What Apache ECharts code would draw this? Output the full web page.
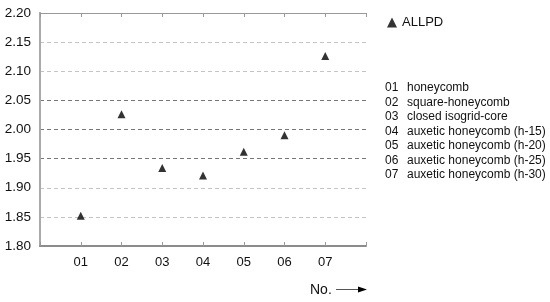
<!DOCTYPE html>
<html>
<head>
<meta charset="utf-8">
<script src="https://cdn.jsdelivr.net/npm/echarts@6/dist/echarts.min.js"></script>
<style>
  html, body { margin: 0; padding: 0; background: #fff; }
  #chart { width: 550px; height: 302px; }
</style>
</head>
<body>
<div id="chart"></div>
<script>
// sample numbers (x positions) and measured ALLPD values
const sampleNo = [1, 2, 3, 4, 5, 6, 7]
const allpd = [1.852, 2.026, 1.934, 1.921, 1.962, 1.990, 2.126]
const sampleNames = [
  'honeycomb',
  'square-honeycomb',
  'closed isogrid-core',
  'auxetic honeycomb (h-15)',
  'auxetic honeycomb (h-20)',
  'auxetic honeycomb (h-25)',
  'auxetic honeycomb (h-30)'
]
const yTicks = [1.80, 1.85, 1.90, 1.95, 2.00, 2.05, 2.10, 2.15, 2.20]

const font = 'Liberation Sans, Arial, sans-serif'
const pad = n => (n < 10 ? '0' : '') + n

const chart = echarts.init(document.getElementById('chart'))

// 右侧编号说明
const nameTexts = sampleNames.map((name, i) => ({
  type: 'group',
  left: 385,
  top: 82 + i * 14.5,
  children: [
    { type: 'text', left: 0, top: 0, style: { text: pad(sampleNo[i]), font: '12px ' + font, fill: '#111' } },
    { type: 'text', left: 22, top: 0, style: { text: name, font: '12px ' + font, fill: '#111' } }
  ]
}))

const option = {
  animation: false,
  backgroundColor: '#fff',
  textStyle: { fontFamily: font },
  grid: { left: 40, top: 13, right: 184, bottom: 56 },
  legend: {
    left: 382,
    top: 11,
    itemWidth: 10,
    itemHeight: 10,
    itemGap: 5,
    textStyle: { fontSize: 13, color: '#111', fontFamily: font },
    data: [{ name: 'ALLPD', icon: 'triangle' }]
  },
  xAxis: [
    {
      type: 'value',
      min: 0,
      max: 8,
      interval: 1,
      axisLine: { lineStyle: { color: '#8c8c8c', width: 2 } },
      axisTick: { inside: true, length: 4, lineStyle: { color: '#999' } },
      axisLabel: {
        margin: 10,
        fontSize: 13,
        color: '#111',
        formatter: v => (v >= 1 && v <= 7 ? pad(v) : '')
      },
      splitLine: { show: false }
    },
    {
      type: 'value',
      position: 'top',
      min: 0,
      max: 8,
      interval: 1,
      axisLine: { show: true, lineStyle: { color: '#999', width: 1 } },
      axisTick: { inside: true, length: 4, lineStyle: { color: '#999' } },
      axisLabel: { show: false },
      splitLine: { show: false }
    }
  ],
  yAxis: [
    {
      type: 'value',
      min: yTicks[0],
      max: yTicks[yTicks.length - 1],
      interval: 0.05,
      axisLine: { show: true, lineStyle: { color: '#aaa', width: 2 } },
      axisTick: { show: false },
      axisLabel: {
        margin: 9,
        fontSize: 13.5,
        color: '#111',
        formatter: v => v.toFixed(2)
      },
      splitLine: {
        lineStyle: {
          type: [4, 3],
          color: ['#fff', '#c4c4c4', '#c4c4c4', '#777', '#777', '#777', '#c4c4c4', '#c4c4c4', '#fff']
        }
      }
    },
    {
      type: 'value',
      position: 'right',
      min: yTicks[0],
      max: yTicks[yTicks.length - 1],
      interval: 0.05,
      axisLine: { show: true, lineStyle: { color: '#aaa', width: 2 } },
      axisTick: { show: false },
      axisLabel: { show: false },
      splitLine: { show: false }
    }
  ],
  series: [
    {
      name: 'ALLPD',
      type: 'scatter',
      symbol: 'triangle',
      symbolSize: 8,
      itemStyle: { color: '#000' },
      data: sampleNo.map((n, i) => [n, allpd[i]])
    }
  ],
  graphic: [
    ...nameTexts,
    // x轴名称和箭头
    { type: 'text', left: 310, top: 283, style: { text: 'No.', font: '14px ' + font, fill: '#111' } },
    { type: 'line', shape: { x1: 336, y1: 289.5, x2: 360, y2: 289.5 }, style: { stroke: '#555', lineWidth: 1 } },
    { type: 'polygon', shape: { points: [[358, 286.5], [367, 289.5], [358, 292.5]] }, style: { fill: '#000' } }
  ]
}

chart.setOption(option)
</script>
</body>
</html>
